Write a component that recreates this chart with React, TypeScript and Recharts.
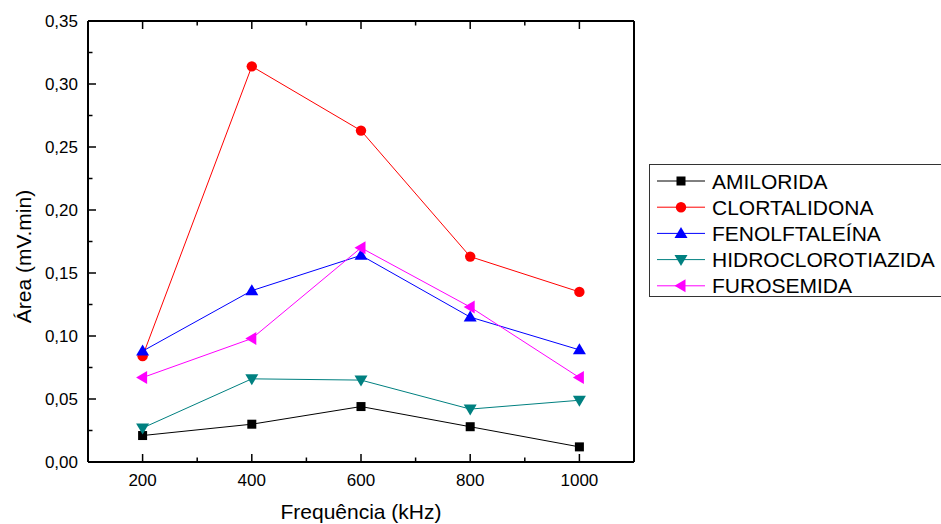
import React from 'react';
import { LineChart, Line, XAxis, YAxis } from 'recharts';

// Frequência (kHz)
const frequencies = [200, 400, 600, 800, 1000];

// Área (mV.min) per compound
const amilorida = [0.021, 0.030, 0.044, 0.028, 0.012];
const clortalidona = [0.084, 0.314, 0.263, 0.163, 0.135];
const fenolftaleina = [0.088, 0.136, 0.164, 0.115, 0.089];
const hidroclorotiazida = [0.027, 0.066, 0.065, 0.042, 0.049];
const furosemida = [0.067, 0.098, 0.170, 0.123, 0.067];

// axis ticks (majors get a label, the rest are minor)
const xTicks = [100, 200, 300, 400, 500, 600, 700, 800, 900, 1000, 1100];
const xLabels = [200, 400, 600, 800, 1000];
const yTicks = [0, 0.025, 0.05, 0.075, 0.1, 0.125, 0.15, 0.175, 0.2, 0.225, 0.25, 0.275, 0.3, 0.325, 0.35];
const yLabels = ['0,00', '0,05', '0,10', '0,15', '0,20', '0,25', '0,30', '0,35'];

type Shape = 'square' | 'circle' | 'up' | 'down' | 'left';

const series: { key: string; name: string; color: string; shape: Shape; values: number[] }[] = [
  { key: 'amilorida', name: 'AMILORIDA', color: '#000000', shape: 'square', values: amilorida },
  { key: 'clortalidona', name: 'CLORTALIDONA', color: '#ff0000', shape: 'circle', values: clortalidona },
  { key: 'fenolftaleina', name: 'FENOLFTALEÍNA', color: '#0000ff', shape: 'up', values: fenolftaleina },
  { key: 'hidroclorotiazida', name: 'HIDROCLOROTIAZIDA', color: '#008080', shape: 'down', values: hidroclorotiazida },
  { key: 'furosemida', name: 'FUROSEMIDA', color: '#ff00ff', shape: 'left', values: furosemida },
];

const data = frequencies.map((f, i) => {
  const row: Record<string, number> = { f };
  series.forEach((s) => (row[s.key] = s.values[i]));
  return row;
});

const FONT = '"Liberation Sans", Arial, Helvetica, sans-serif';

const Marker = ({ cx, cy, color, shape }: { cx: number; cy: number; color: string; shape: Shape }) => {
  if (cx == null || cy == null) return null;
  switch (shape) {
    case 'square':
      return <rect x={cx - 4.5} y={cy - 4.5} width={9} height={9} fill={color} />;
    case 'circle':
      return <circle cx={cx} cy={cy} r={5.2} fill={color} />;
    case 'up':
      return <polygon points={`${cx},${cy - 6.5} ${cx - 6.5},${cy + 4.5} ${cx + 6.5},${cy + 4.5}`} fill={color} />;
    case 'down':
      return <polygon points={`${cx},${cy + 6.5} ${cx - 6.5},${cy - 4.5} ${cx + 6.5},${cy - 4.5}`} fill={color} />;
    case 'left':
      return <polygon points={`${cx - 6.5},${cy} ${cx + 4.5},${cy - 6.5} ${cx + 4.5},${cy + 6.5}`} fill={color} />;
  }
  return null;
};

const isMajorY = (v: number) => Math.abs(v / 0.05 - Math.round(v / 0.05)) < 1e-6;

const LeftTick = (props: any) => {
  const { x, y, payload } = props;
  const major = isMajorY(payload.value);
  const label = yLabels[Math.round(payload.value / 0.05)];
  return (
    <g>
      <line x1={x} x2={x + (major ? 8 : 4.5)} y1={y} y2={y} stroke="#000" strokeWidth={1.5} />
      {major && (
        <text x={x - 10} y={y} dy="0.36em" textAnchor="end" fontSize={17} fill="#000" fontFamily={FONT}>
          {label}
        </text>
      )}
    </g>
  );
};

const RightTick = (props: any) => {
  const { x, y, payload } = props;
  const major = isMajorY(payload.value);
  return <line x1={x} x2={x - (major ? 8 : 4.5)} y1={y} y2={y} stroke="#000" strokeWidth={1.5} />;
};

const BottomTick = (props: any) => {
  const { x, y, payload } = props;
  const major = xLabels.includes(payload.value);
  return (
    <g>
      <line x1={x} x2={x} y1={y} y2={y - (major ? 8 : 4.5)} stroke="#000" strokeWidth={1.5} />
      {major && (
        <text x={x} y={y + 24} textAnchor="middle" fontSize={17} fill="#000" fontFamily={FONT}>
          {payload.value}
        </text>
      )}
    </g>
  );
};

const TopTick = (props: any) => {
  const { x, y, payload } = props;
  const major = xLabels.includes(payload.value);
  return <line x1={x} x2={x} y1={y} y2={y + (major ? 8 : 4.5)} stroke="#000" strokeWidth={1.5} />;
};

const XTitle = (props: any) => {
  const vb = props.viewBox || {};
  return (
    <text x={vb.x + vb.width / 2} y={vb.y + 57} textAnchor="middle" fontSize={21} fill="#000" fontFamily={FONT}>
      Frequência (kHz)
    </text>
  );
};

const YTitle = (props: any) => {
  const vb = props.viewBox || {};
  const cx = vb.x + 31;
  const cy = vb.y + vb.height / 2 + 15;
  return (
    <text x={cx} y={cy} transform={`rotate(-90, ${cx}, ${cy})`} textAnchor="middle" fontSize={21} fill="#000" fontFamily={FONT}>
      Área (mV.min)
    </text>
  );
};

const LegendBox = () => (
  <div
    style={{
      position: 'absolute',
      left: 649,
      top: 164,
      width: 300,
      height: 133,
      border: '1px solid #333',
      boxSizing: 'border-box',
      background: '#fff',
    }}
  >
    <svg width={300} height={133}>
      {series.map((s, i) => {
        const cy = 16 + i * 26.2;
        return (
          <g key={s.key}>
            <line x1={7} x2={55} y1={cy} y2={cy} stroke={s.color} strokeWidth={1} />
            <Marker cx={31} cy={cy} color={s.color} shape={s.shape} />
            <text x={62} y={cy} dy="0.36em" fontSize={21} fill="#000" fontFamily={FONT}>
              {s.name}
            </text>
          </g>
        );
      })}
    </svg>
  </div>
);

export default function App() {
  return (
    <div style={{ position: 'absolute', left: 0, top: 0, width: 941, height: 524, overflow: 'hidden', background: '#fff' }}>
      <LineChart width={941} height={524} data={data} margin={{ top: 20, right: 306, bottom: 0, left: 0 }}>
        <XAxis
          xAxisId="b"
          dataKey="f"
          type="number"
          orientation="bottom"
          domain={[100, 1100]}
          ticks={xTicks}
          interval={0}
          height={62}
          tickSize={0}
          tickMargin={0}
          tickLine={false}
          axisLine={{ stroke: '#000', strokeWidth: 2 }}
          tick={<BottomTick />}
          label={<XTitle />}
        />
        <XAxis
          xAxisId="t"
          dataKey="f"
          type="number"
          orientation="top"
          domain={[100, 1100]}
          ticks={xTicks}
          interval={0}
          height={1}
          tickSize={0}
          tickMargin={0}
          tickLine={false}
          axisLine={{ stroke: '#000', strokeWidth: 2 }}
          tick={<TopTick />}
        />
        <YAxis
          yAxisId="l"
          type="number"
          orientation="left"
          domain={[0, 0.35]}
          ticks={yTicks}
          interval={0}
          width={88}
          tickSize={0}
          tickMargin={0}
          tickLine={false}
          axisLine={{ stroke: '#000', strokeWidth: 2 }}
          tick={<LeftTick />}
          label={<YTitle />}
        />
        <YAxis
          yAxisId="r"
          type="number"
          orientation="right"
          domain={[0, 0.35]}
          ticks={yTicks}
          interval={0}
          width={1}
          tickSize={0}
          tickMargin={0}
          tickLine={false}
          axisLine={{ stroke: '#000', strokeWidth: 2 }}
          tick={<RightTick />}
        />
        {series.map((s) => (
          <Line
            key={s.key}
            xAxisId="b"
            yAxisId="l"
            dataKey={s.key}
            name={s.name}
            type="linear"
            stroke={s.color}
            strokeWidth={1}
            isAnimationActive={false}
            dot={(p: any) => <Marker key={`${s.key}-${p.index}`} cx={p.cx} cy={p.cy} color={s.color} shape={s.shape} />}
            activeDot={false}
          />
        ))}
      </LineChart>
      <LegendBox />
    </div>
  );
}
